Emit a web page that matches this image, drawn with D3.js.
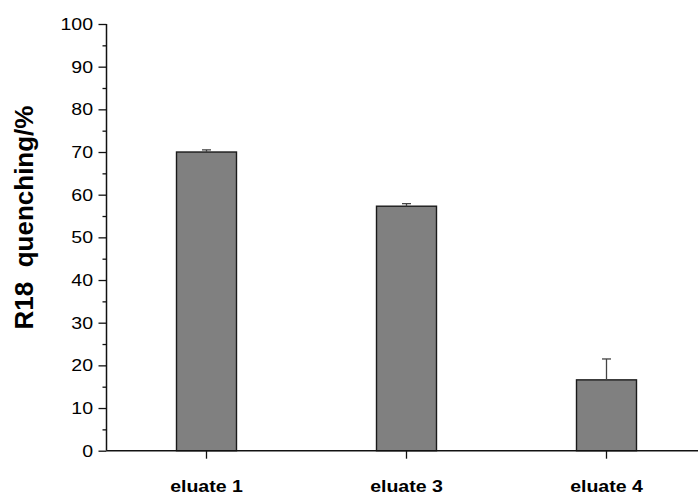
<!DOCTYPE html>
<html><head><meta charset="utf-8">
<script src="https://cdn.jsdelivr.net/npm/d3@7"></script>
<style>body{margin:0;background:#fff}svg{display:block}</style>
</head><body>
<svg id="chart" width="698" height="497"></svg>
<script>
const categories = ["eluate 1", "eluate 3", "eluate 4"];
const values = [70.0, 57.3, 16.6];
const errors = [0.5, 0.6, 4.9];
const yTicks = [0, 10, 20, 30, 40, 50, 60, 70, 80, 90, 100];
const yMinorTicks = [5, 15, 25, 35, 45, 55, 65, 75, 85, 95];
const yTitle = "R18  quenching/%";

const svg = d3.select("#chart");
const x0 = 106.5, x1 = 706.5, yBottom = 450.7, yTop = 24;
const x = d3.scaleBand().domain(categories).range([x0, x1]).paddingInner(0.7).paddingOuter(0.35);
const y = d3.scaleLinear().domain([0, 100]).range([yBottom, yTop]);
const font = "Liberation Sans, Arial, Helvetica, sans-serif";
const sx = 1.15;

// bars
svg.append("g").selectAll("rect").data(categories).join("rect")
  .attr("x", d => x(d)).attr("width", x.bandwidth())
  .attr("y", (d, i) => y(values[i])).attr("height", (d, i) => y(0) - y(values[i]))
  .attr("fill", "#808080").attr("stroke", "#1a1a1a").attr("stroke-width", 1.4);

// error bars (upper only)
const eg = svg.append("g").attr("stroke", "#444").attr("stroke-width", 1.3);
categories.forEach((c, i) => {
  const cx = x(c) + x.bandwidth() / 2;
  eg.append("line").attr("x1", cx).attr("x2", cx).attr("y1", y(values[i])).attr("y2", y(values[i] + errors[i]));
  eg.append("line").attr("x1", cx - 4.5).attr("x2", cx + 4.5).attr("y1", y(values[i] + errors[i])).attr("y2", y(values[i] + errors[i]));
});

// y axis
const yAxis = d3.axisLeft(y).tickValues(yTicks).tickSize(8).tickPadding(5).tickFormat(d3.format("d"));
const ya = svg.append("g").attr("transform", `translate(${x0},0)`).call(yAxis);
ya.select(".domain").attr("d", `M0,${yBottom}V${yTop}`).attr("stroke", "#111").attr("stroke-width", 1.5);
ya.selectAll(".tick line").attr("stroke", "#111").attr("stroke-width", 1.3);
ya.selectAll(".tick text").attr("font-family", font).attr("font-size", 17).attr("fill", "#000")
  .attr("x", -13.5 / sx).attr("transform", `scale(${sx},1)`);
const yMinor = d3.axisLeft(y).tickValues(yMinorTicks).tickSize(4).tickFormat("");
const ym = svg.append("g").attr("transform", `translate(${x0},0)`).call(yMinor);
ym.select(".domain").remove();
ym.selectAll(".tick line").attr("stroke", "#111").attr("stroke-width", 1.3);

// x axis
const xAxis = d3.axisBottom(x).tickSize(8);
const xa = svg.append("g").attr("transform", `translate(0,${yBottom})`).call(xAxis);
xa.select(".domain").attr("d", `M${x0},0H${x1}`).attr("stroke", "#111").attr("stroke-width", 1.5);
xa.selectAll(".tick line").attr("stroke", "#111").attr("stroke-width", 1.3);
xa.selectAll(".tick text").attr("font-family", font).attr("font-size", 17).attr("font-weight", "bold").attr("fill", "#000")
  .attr("y", 41.5).attr("dy", 0).attr("transform", `scale(${sx},1)`);

// y title
svg.append("text").attr("transform", "translate(33,217.5) rotate(-90)")
  .attr("text-anchor", "middle").attr("font-family", font).attr("font-size", 26).attr("font-weight", "bold")
  .attr("fill", "#000").attr("xml:space", "preserve").style("white-space", "pre").text(yTitle);
</script>
</body></html>
